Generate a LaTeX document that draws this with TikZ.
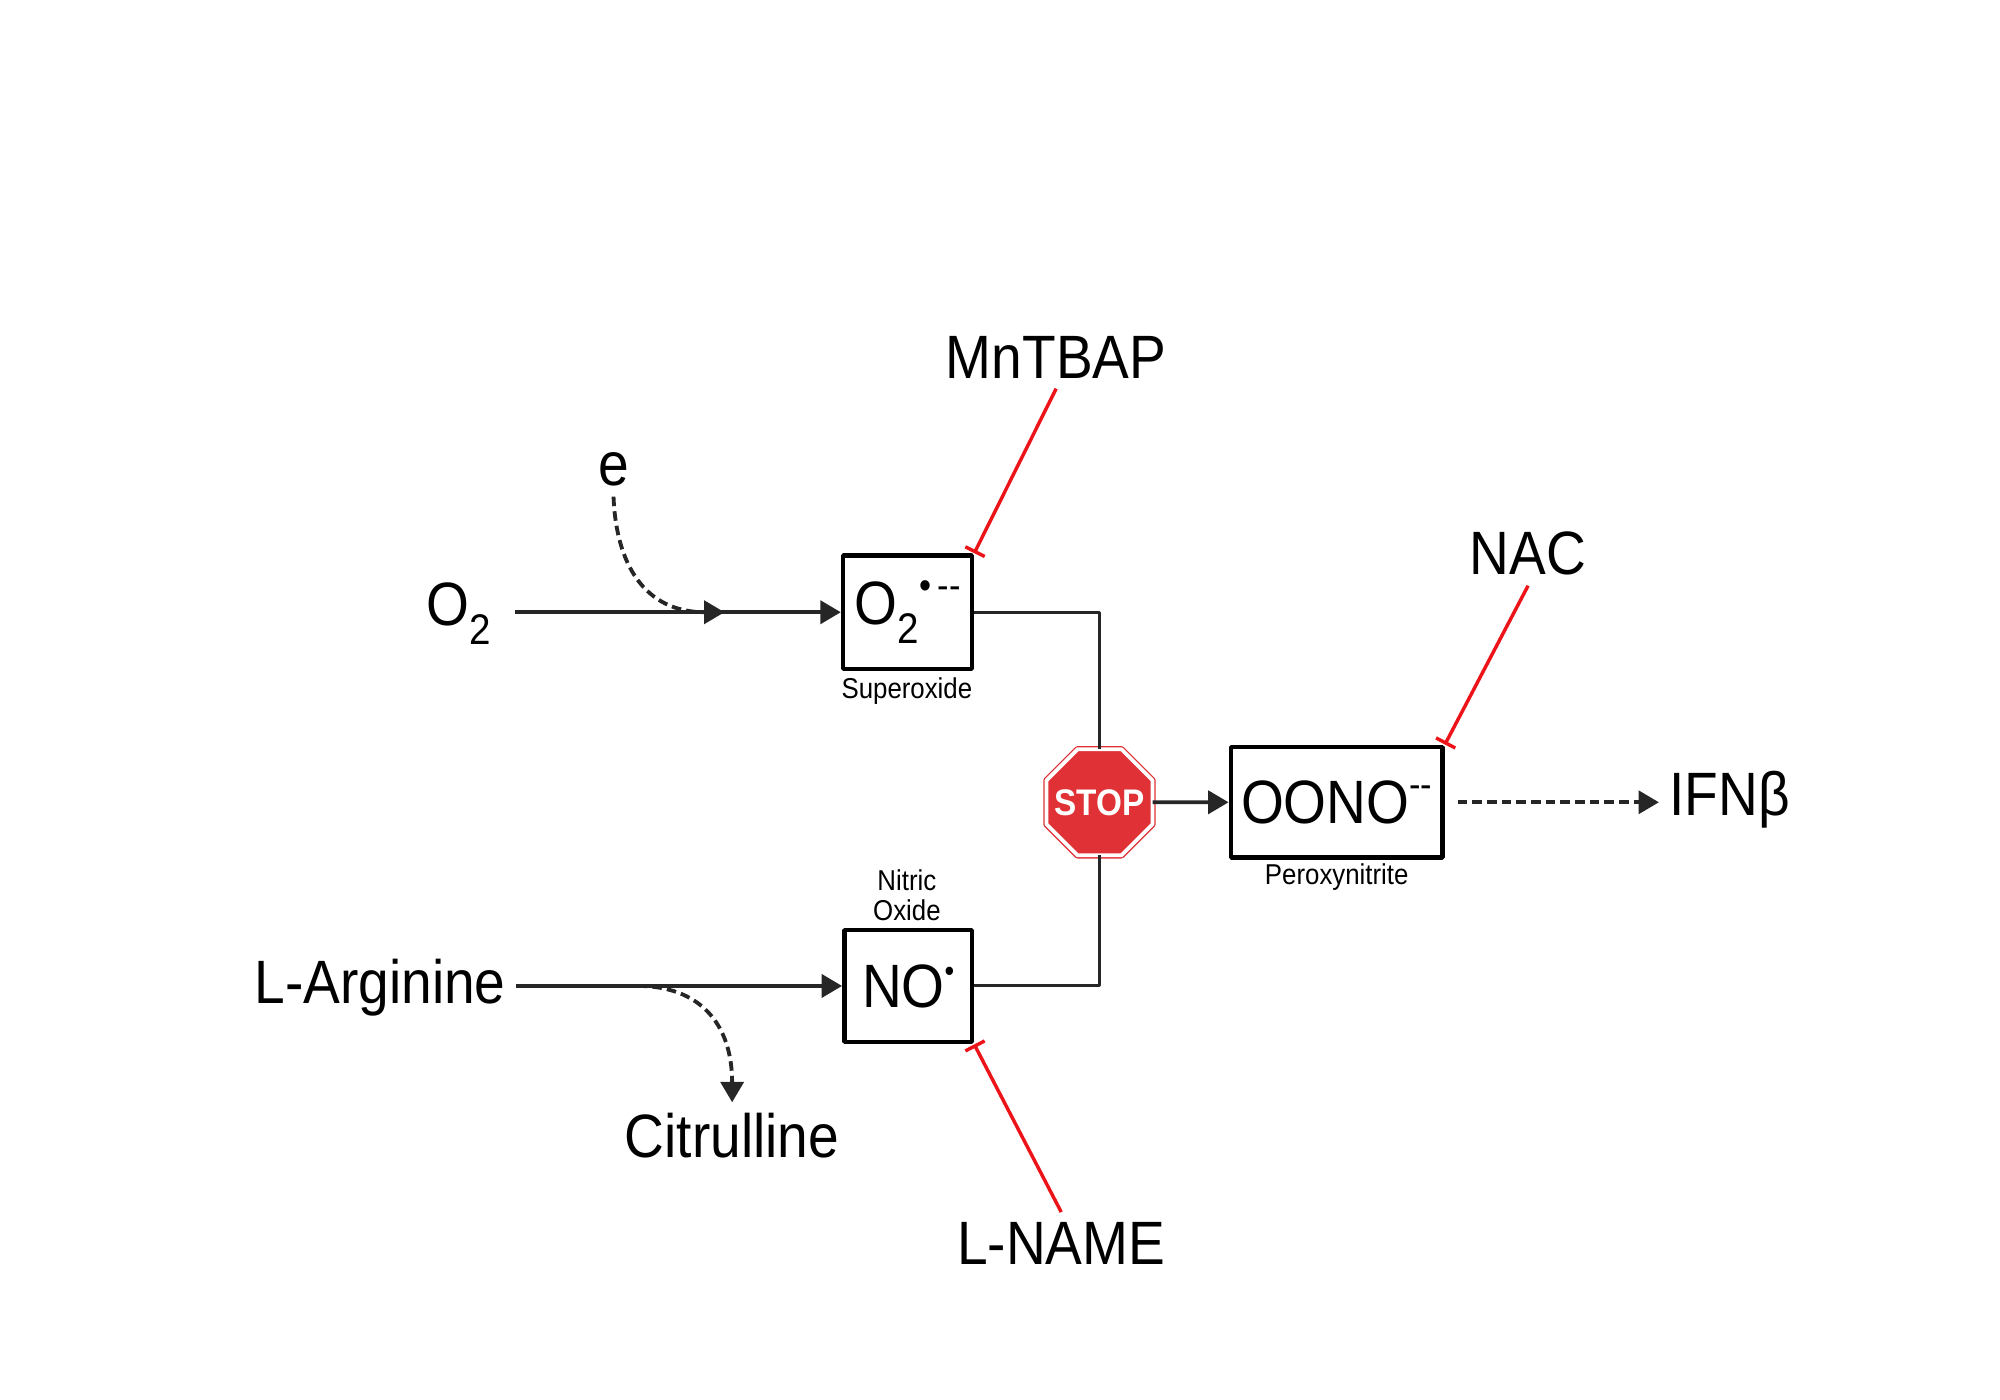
\documentclass[tikz,border=0pt]{standalone}
\usepackage{fontspec}
\setmainfont{Liberation Sans}[FakeStretch=0.9]
\usetikzlibrary{arrows.meta,shapes.geometric}
\definecolor{stopred}{RGB}{224,50,54}
\definecolor{inkgray}{RGB}{38,38,38}
\definecolor{inhred}{RGB}{236,20,24}
\newcommand\bigtxt{\fontsize{48bp}{52bp}\selectfont}
\newcommand\smalltxt{\fontsize{22.5bp}{24bp}\selectfont}
\newcommand\stoptxt{\fontsize{29bp}{30bp}\selectfont\bfseries}
\newcommand\chargemark[2]{\raisebox{20bp}{\fontsize{#1}{#1}\selectfont#2}}
\begin{document}
\begin{tikzpicture}[>={Triangle[length=16bp,width=18bp]},line join=bevel,
  chem/.style={font=\bigtxt,inner sep=8bp},
  note/.style={font=\smalltxt,inner sep=2bp},
  species/.style={draw=black,line width=3.6bp,inner sep=2bp,font=\bigtxt},
  stopsign/.style={regular polygon,regular polygon sides=8,minimum size=90bp,inner sep=0pt,outer sep=0pt,
    fill=stopred,draw=stopred,line width=1bp,double=white,double distance=3bp,text=white,font=\stoptxt},
  flow/.style={inkgray,line width=3bp},
  link/.style={inkgray,line width=2.4bp},
  dots/.style={dash pattern=on 7.5bp off 4bp},
  inhibit/.style={inhred,line width=2.7bp,-{Bar[width=17bp]}},
]
\useasboundingbox (0bp,-5.6bp) rectangle (1568bp,1092bp);
%%
\node (node_o2) at (360bp,611bp) [chem] {O\textsubscript{2}};
  \node (node_e) at (481bp,724bp) [chem] {e};
  \node (node_o2box) at (711.5bp,612bp) [species,minimum width=101bp,minimum height=89bp] {O\textsubscript{2}\chargemark{30bp}{•\,{-}{-}}};
  \node (node_superoxide) at (711bp,550bp) [note] {Superoxide};
  \node (node_mntbap) at (828bp,812bp) [chem] {MnTBAP};
  \node (node_stop) at (862bp,463bp) [stopsign] {\makebox[0pt]{STOP}};
  \node (node_oono) at (1048bp,463bp) [species,minimum width=166bp,minimum height=87bp] {OONO\chargemark{30bp}{{-}{-}}};
  \node (node_peroxy) at (1048bp,404bp) [note] {Peroxynitrite};
  \node (node_nac) at (1198bp,658bp) [chem] {NAC};
  \node (node_ifn) at (1356bp,465bp) [chem] {IFNβ};
  \node (node_no) at (712bp,319bp) [species,minimum width=100bp,minimum height=88bp] {NO\chargemark{24bp}{•}};
  \node (node_nitric) at (711bp,390bp) [note,align=center] {Nitric\\Oxide};
  \node (node_larg) at (298bp,318bp) [chem] {L-Arginine};
  \node (node_citrulline) at (574bp,202bp) [chem] {Citrulline};
  \node (node_lname) at (832bp,117bp) [chem] {L-NAME};
  \coordinate (node_join) at (568bp,612bp);
  \coordinate (node_split) at (500bp,319bp);
  \draw [flow,->,shorten <=10bp] (node_o2.east |- node_o2box.west) -- (node_o2box.west);
  \draw [flow,dots,->] (node_e.south) ..controls (483bp,650bp) and (505bp,612bp)  .. (node_join);
  \draw [flow,->] (node_larg.east |- node_no.west) -- (node_no.west);
  \draw [flow,dots,->] (node_split) ..controls (548bp,319bp) and (574bp,290bp)  .. (node_citrulline.north);
  \draw [link] (node_o2box.east) -| (node_stop.north);
  \draw [link] (node_no.east) -| (node_stop.south);
  \draw [flow,->] (node_stop.east) -- (node_oono.west);
  \draw [flow,dots,->,shorten <=10bp] (node_oono.east) -- (node_oono.east -| node_ifn.west);
  \draw [inhibit] (node_mntbap.south) -- (node_o2box.north east);
  \draw [inhibit] (node_nac.south) -- (node_oono.north east);
  \draw [inhibit] (node_lname.north) -- (node_no.south east);
%
\end{tikzpicture}
\end{document}
